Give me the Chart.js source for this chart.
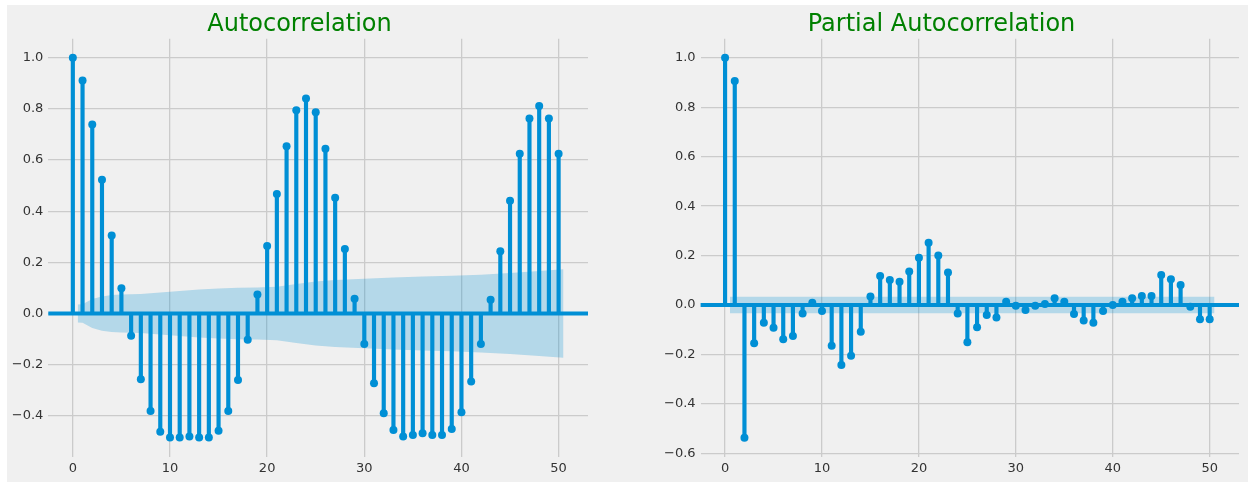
<!DOCTYPE html>
<html>
<head>
<meta charset="utf-8">
<script src="https://cdn.jsdelivr.net/npm/chart.js@4.4.1/dist/chart.umd.min.js"></script>
<style>
  html, body { margin: 0; padding: 0; background: #ffffff; }
  #panel { position: absolute; left: 7px; top: 5px; width: 1241px; height: 477px; background: #f0f0f0; }
  canvas { position: absolute; top: 5px; }
</style>
</head>
<body>
<div id="panel"></div>
<script>
// ACF / PACF stem plots (fivethirtyeight look)
const lags = [0, 1, 2, 3, 4, 5, 6, 7, 8, 9, 10, 11, 12, 13, 14, 15, 16, 17, 18, 19, 20,
    21, 22, 23, 24, 25, 26, 27, 28, 29, 30, 31, 32, 33, 34, 35, 36, 37, 38, 39, 40,
    41, 42, 43, 44, 45, 46, 47, 48, 49, 50];

const acfValues = [1.0, 0.911, 0.739, 0.523, 0.305, 0.099, -0.087, -0.257, -0.381, -0.462,
    -0.485, -0.485, -0.481, -0.485, -0.485, -0.458, -0.381, -0.26, -0.103, 0.074,
    0.264, 0.467, 0.654, 0.795, 0.841, 0.787, 0.644, 0.453, 0.252, 0.058,
    -0.119, -0.273, -0.39, -0.455, -0.481, -0.475, -0.468, -0.475, -0.475, -0.451,
    -0.386, -0.266, -0.119, 0.054, 0.243, 0.441, 0.625, 0.762, 0.811, 0.762, 0.625];

const pacfValues = [1.0, 0.906, -0.537, -0.155, -0.072, -0.092, -0.139, -0.125, -0.034, 0.009,
    -0.024, -0.165, -0.243, -0.205, -0.108, 0.034, 0.117, 0.101, 0.094, 0.135,
    0.191, 0.252, 0.2, 0.131, -0.034, -0.151, -0.09, -0.04, -0.051, 0.013,
    -0.003, -0.02, -0.003, 0.004, 0.027, 0.013, -0.036, -0.063, -0.072, -0.024,
    0.0, 0.013, 0.027, 0.036, 0.036, 0.121, 0.104, 0.081, -0.007, -0.058, -0.058];

// confidence band half-widths, read at a few lags
const acfBandLags = [0.5, 1, 2, 3, 4, 5, 7, 9, 11, 13, 15, 17, 19, 21, 23, 25, 27, 30, 33, 36, 39, 42, 45, 48, 50.5];
const acfBandWidth = [0.035, 0.036, 0.057, 0.067, 0.072, 0.074, 0.076, 0.082, 0.088, 0.094, 0.098, 0.101,
    0.102, 0.105, 0.115, 0.125, 0.131, 0.136, 0.141, 0.145, 0.148, 0.152, 0.158, 0.166, 0.173];
const pacfBandLags = [0.5, 50.5];
const pacfBandWidth = [0.033, 0.033];

const xTicks = [0, 10, 20, 30, 40, 50];
const acfYTicks = [-0.4, -0.2, 0.0, 0.2, 0.4, 0.6, 0.8, 1.0];
const pacfYTicks = [-0.6, -0.4, -0.2, 0.0, 0.2, 0.4, 0.6, 0.8, 1.0];

const BLUE = '#008fd5';
const FONT = 'DejaVu Sans';

// horizontal line at zero across the whole axes
const zeroLinePlugin = {
    id: 'zeroLine',
    afterDatasetsDraw: function (chart) {
        const ctx = chart.ctx;
        const area = chart.chartArea;
        const y = chart.scales.y.getPixelForValue(0);
        ctx.save();
        ctx.strokeStyle = BLUE;
        ctx.lineWidth = 4;
        ctx.beginPath();
        ctx.moveTo(area.left, y);
        ctx.lineTo(area.right, y);
        ctx.stroke();
        ctx.restore();
    }
};

function fmtTick(value) {
    const s = Math.abs(value).toFixed(1);
    return value < -1e-9 ? '\u2212' + s : s;
}

function makeChart(left, width, axisWidth, title, values, bandLags, bandWidth, yTicks, yMin, yMax) {
    const canvas = document.createElement('canvas');
    canvas.width = width;
    canvas.height = 477;
    canvas.style.left = left + 'px';
    document.body.appendChild(canvas);

    const points = lags.map(function (l, i) { return { x: l, y: values[i] }; });

    new Chart(canvas, {
        type: 'bar',
        data: {
            datasets: [
                {
                    type: 'line',
                    data: bandLags.map(function (l, i) { return { x: l, y: -bandWidth[i] }; }),
                    borderWidth: 0,
                    pointRadius: 0,
                    fill: false,
                    order: 5
                },
                {
                    type: 'line',
                    data: bandLags.map(function (l, i) { return { x: l, y: bandWidth[i] }; }),
                    borderWidth: 0,
                    pointRadius: 0,
                    backgroundColor: 'rgba(0, 143, 213, 0.25)',
                    fill: '-1',
                    order: 4
                },
                {
                    type: 'bar',
                    data: points,
                    backgroundColor: BLUE,
                    barThickness: 3.5,
                    order: 2
                },
                {
                    type: 'scatter',
                    data: points,
                    pointRadius: 4,
                    pointBackgroundColor: BLUE,
                    pointBorderWidth: 0,
                    order: 1
                }
            ]
        },
        options: {
            responsive: false,
            animation: false,
            layout: { padding: { top: 5, bottom: 0, left: 0, right: 0 } },
            plugins: {
                legend: { display: false },
                tooltip: { enabled: false },
                title: {
                    display: true,
                    text: title,
                    color: '#008000',
                    font: { family: FONT, size: 24, weight: 'normal' },
                    padding: { top: 0, bottom: 0 }
                }
            },
            scales: {
                x: {
                    type: 'linear',
                    min: -2.525,
                    max: 53.025,
                    offset: false,
                    afterBuildTicks: function (scale) {
                        scale.ticks = xTicks.map(function (v) { return { value: v }; });
                    },
                    afterFit: function (scale) { scale.height = 25.5; },
                    ticks: {
                        color: '#333333',
                        font: { family: FONT, size: 13 },
                        padding: 4,
                        maxRotation: 0,
                        callback: function (v) { return String(v); }
                    },
                    grid: { color: '#cbcbcb', lineWidth: 1.3, drawTicks: false, offset: false },
                    border: { display: false }
                },
                y: {
                    min: yMin,
                    max: yMax,
                    afterBuildTicks: function (scale) {
                        scale.ticks = yTicks.map(function (v) { return { value: v }; });
                    },
                    afterFit: function (scale) { scale.width = axisWidth; },
                    ticks: {
                        color: '#333333',
                        font: { family: FONT, size: 13 },
                        padding: 5,
                        callback: fmtTick
                    },
                    grid: { color: '#cbcbcb', lineWidth: 1.3, drawTicks: false },
                    border: { display: false }
                }
            }
        },
        plugins: [zeroLinePlugin]
    });
}

document.addEventListener('DOMContentLoaded', function () {
    makeChart(7, 585, 41.3, 'Autocorrelation', acfValues, acfBandLags, acfBandWidth, acfYTicks, -0.559, 1.074);
    makeChart(640, 603, 60.6, 'Partial Autocorrelation', pacfValues, pacfBandLags, pacfBandWidth, pacfYTicks, -0.613, 1.077);
});
</script>
</body>
</html>
